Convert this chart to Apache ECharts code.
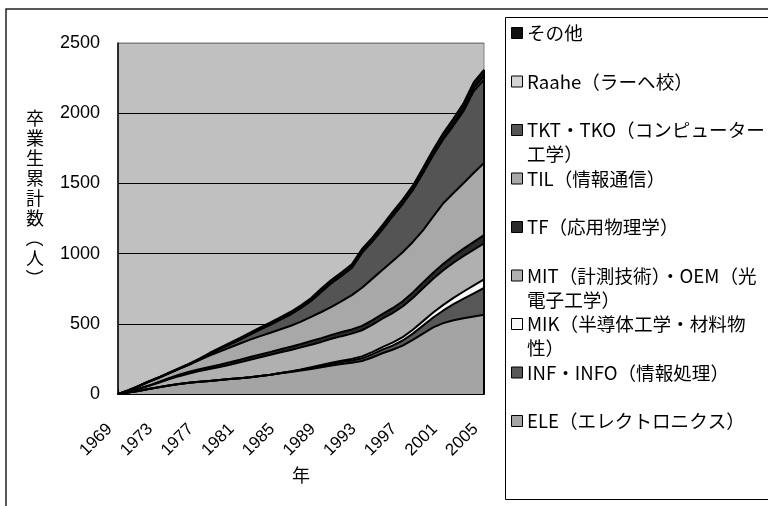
<!DOCTYPE html>
<html>
<head>
<meta charset="utf-8">
<script src="https://cdn.jsdelivr.net/npm/echarts@6/dist/echarts.min.js"></script>
<style>
  html, body { margin: 0; padding: 0; background: #fff; }
  #chart { width: 768px; height: 506px; }
</style>
</head>
<body>
<div id="chart"></div>
<script>
// Cumulative graduates per degree programme, 1969-2005
const years = ['1969','1970','1971','1972','1973','1974','1975','1976','1977','1978',
  '1979','1980','1981','1982','1983','1984','1985','1986','1987','1988',
  '1989','1990','1991','1992','1993','1994','1995','1996','1997','1998',
  '1999','2000','2001','2002','2003','2004','2005'];

const ele   = [0,10,22,36,48,60,72,80,87,93,99,106,113,120,128,137,147,157,167,178,190,203,213,222,235,260,290,315,345,385,430,475,505,525,540,552,565];
const inf   = [0,0,0,0,0,0,0,0,0,0,0,0,0,0,0,0,2,4,6,8,10,12,14,16,19,22,26,30,36,45,57,70,90,115,140,165,190];
const mik   = [0,0,0,0,0,0,0,0,0,0,0,0,0,0,0,0,0,0,2,4,6,8,10,12,14,16,18,21,24,28,32,36,40,45,50,56,62];
const mit   = [0,5,13,20,32,44,55,66,76,85,94,103,113,124,134,142,148,153,157,161,165,170,175,180,186,194,202,210,218,226,234,240,246,250,253,255,256];
const tf    = [0,1,2,4,6,8,10,12,13,15,16,17,18,19,20,21,22,23,24,26,27,28,29,30,31,32,33,35,37,39,41,43,46,49,52,56,59];
const til   = [0,9,18,27,30,36,42,52,65,80,93,105,116,124,130,136,142,149,159,172,186,200,220,244,272,296,314,335,350,360,372,400,432,448,468,492,513];
const tkt   = [0,0,0,0,0,0,0,0,4,10,17,22,28,37,48,58,70,82,98,115,145,170,182,195,250,265,290,320,345,370,408,436,456,480,514,582,594];
const raahe = [0,0,0,0,0,0,0,0,0,0,0,0,0,0,0,0,0,0,0,0,0,0,0,0,0,0,0,0,0,0,2,5,8,12,16,20,24];
const other = [0,0,1,2,3,4,5,6,7,9,10,11,12,13,15,16,17,18,19,20,22,23,24,25,26,27,28,29,30,31,33,34,36,38,40,43,46];

// Stack order, bottom to top
const seriesNames = [
  'ELE（エレクトロニクス）',
  'INF・INFO（情報処理）',
  'MIK（半導体工学・材料物性）',
  'MIT（計測技術）・OEM（光電子工学）',
  'TF（応用物理学）',
  'TIL（情報通信）',
  'TKT・TKO（コンピューター工学）',
  'Raahe（ラーヘ校）',
  'その他'
];
const legendLabels = [
  'ELE（エレクトロニクス）',
  'INF・INFO（情報処理）',
  'MIK（半導体工学・材料物\n性）',
  'MIT（計測技術）・OEM（光\n電子工学）',
  'TF（応用物理学）',
  'TIL（情報通信）',
  'TKT・TKO（コンピューター\n工学）',
  'Raahe（ラーヘ校）',
  'その他'
];
const seriesData = [ele, inf, mik, mit, tf, til, tkt, raahe, other];
const fills = ['#a4a4a4', '#575757', '#f8f8f8', '#b0b0b0', '#2a2a2a', '#a8a8a8', '#545454', '#d4d4d4', '#0f0f0f'];

const yTicks = [0, 500, 1000, 1500, 2000, 2500];
const yTitle = ['卒', '業', '生', '累', '計', '数', '（', '人', '）'];
const xTitle = '年';

const CJK = '"Noto Sans CJK JP", "Noto Sans", sans-serif';
const LATIN = '"Liberation Sans", Arial, sans-serif';

const chart = echarts.init(document.getElementById('chart'));

const lastIdx = years.length - 1;
const stackTop = seriesData.reduce((s, d) => s + d[lastIdx], 0);

const series = seriesData.map((d, i) => ({
  name: seriesNames[i],
  type: 'line',
  stack: 'total',
  data: d,
  symbol: 'none',
  smooth: false,
  lineStyle: { color: '#000', width: 2 },
  areaStyle: { color: fills[i], opacity: 1 },
  z: 2
}));
// closing edge of the stacked areas on the right side
series[series.length - 1].markLine = {
  silent: true,
  symbol: 'none',
  label: { show: false },
  lineStyle: { color: '#000', width: 2, type: 'solid' },
  data: [[{ coord: [years[lastIdx], 0] }, { coord: [years[lastIdx], stackTop] }]]
};

// Legend entries drawn top-down (reverse of stack order)
const legendGraphics = [];
const order = seriesNames.map((_, i) => seriesNames.length - 1 - i);
order.forEach((si, row) => {
  const cy = 33 + row * 48.5;
  legendGraphics.push({
    type: 'rect',
    shape: { x: 511.5, y: cy - 5.5, width: 11, height: 11 },
    style: { fill: fills[si], stroke: '#000', lineWidth: 1 },
    z: 10
  });
  legendGraphics.push({
    type: 'text',
    x: 527, y: cy - 12,
    style: {
      text: legendLabels[si],
      font: '18.6px ' + CJK,
      lineHeight: 24,
      fill: '#000',
      verticalAlign: 'top',
      align: 'left'
    },
    z: 10
  });
});

// Vertical axis title, one character per line; brackets turned for vertical setting
const titleGraphics = yTitle.map((ch, k) => {
  const isBracket = ch === '（' || ch === '）';
  return {
    type: 'text',
    x: 35, y: 118 + k * 20,
    rotation: isBracket ? -Math.PI / 2 : 0,
    style: {
      text: ch,
      font: '18px ' + CJK,
      fill: '#000',
      align: 'center',
      verticalAlign: 'middle'
    }
  };
});

chart.setOption({
  animation: false,
  backgroundColor: '#fff',
  grid: {
    left: 118, right: 284, top: 43, bottom: 112,
    show: true,
    backgroundColor: '#c0c0c0',
    borderColor: '#808080',
    borderWidth: 1
  },
  xAxis: {
    type: 'category',
    data: years,
    boundaryGap: false,
    axisLine: { show: true, lineStyle: { color: '#000', width: 2 } },
    axisTick: { show: true, inside: true, length: 5, interval: 0, lineStyle: { color: '#000', width: 1 } },
    axisLabel: {
      interval: 3,
      rotate: 45,
      margin: 24,
      padding: [0, 12, 0, 0],
      fontSize: 17,
      fontFamily: LATIN,
      color: '#000'
    },
    splitLine: { show: false }
  },
  yAxis: {
    type: 'value',
    min: yTicks[0],
    max: yTicks[yTicks.length - 1],
    interval: 500,
    axisLine: { show: true, lineStyle: { color: '#000', width: 1.5 } },
    axisTick: { show: false },
    axisLabel: {
      margin: 18,
      fontSize: 18,
      fontFamily: LATIN,
      color: '#000',
      formatter: v => String(v)
    },
    splitLine: {
      show: true,
      lineStyle: { color: ['#000', '#000', '#000', '#000', '#000', '#808080'], width: 1 }
    }
  },
  series: series,
  graphic: [
    {
      type: 'rect',
      shape: { x: 6, y: 9, width: 800, height: 600 },
      style: { fill: 'none', stroke: '#222', lineWidth: 1.5 },
      z: 0, silent: true
    },
    {
      type: 'rect',
      shape: { x: 505.5, y: 17.5, width: 300, height: 482 },
      style: { fill: '#fff', stroke: '#000', lineWidth: 1 },
      z: 5, silent: true
    },
    {
      type: 'text',
      x: 301, y: 475,
      style: {
        text: xTitle,
        font: '18px ' + CJK,
        fill: '#000',
        align: 'center',
        verticalAlign: 'middle'
      }
    }
  ].concat(titleGraphics, legendGraphics)
});
</script>
</body>
</html>
